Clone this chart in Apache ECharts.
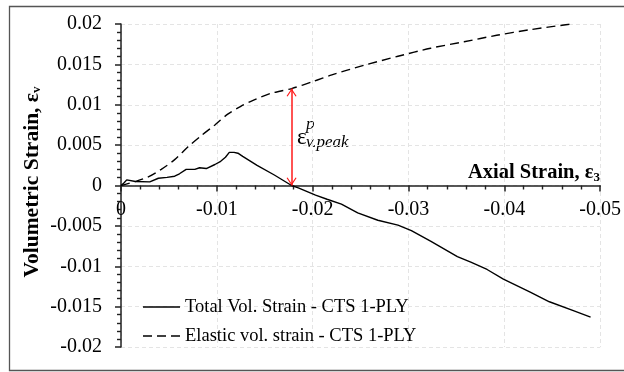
<!DOCTYPE html>
<html>
<head>
<meta charset="utf-8">
<script src="https://cdn.jsdelivr.net/npm/echarts@6/dist/echarts.min.js"></script>
<style>
  html, body { margin: 0; padding: 0; background: #fff; }
  #chart { width: 624px; height: 372px; }
</style>
</head>
<body>
<div id="chart"></div>
<script>
// Axial strain (negative = compression) and total volumetric strain
const totalStrainX = [0, -0.0003, -0.0006, -0.0015, -0.003, -0.0039, -0.0048, -0.0056, -0.0061, -0.0068,
  -0.0077, -0.0082, -0.0089, -0.0098, -0.0104, -0.0109, -0.0113, -0.0118, -0.0122, -0.0127,
  -0.0142, -0.016, -0.0178, -0.0185, -0.0203, -0.0215, -0.023, -0.0247, -0.0268, -0.0289,
  -0.0303, -0.0323, -0.0351, -0.0365, -0.0382, -0.0399, -0.0427, -0.0447, -0.0472, -0.049];
const totalStrainY = [0, 0.0003, 0.0007, 0.0005, 0.00045, 0.0009, 0.001, 0.00115, 0.00145, 0.002,
  0.002, 0.0022, 0.0021, 0.0026, 0.003, 0.0035, 0.0041, 0.0041, 0.004, 0.0036,
  0.0025, 0.0013, 0, -0.0003, -0.0012, -0.0017, -0.0023, -0.0034, -0.0043, -0.0049,
  -0.0056, -0.0069, -0.0088, -0.0095, -0.0104, -0.0116, -0.0132, -0.0144, -0.0155, -0.0163];

// Elastic volumetric strain
const elasticStrainX = [0, -0.0015, -0.0029, -0.0042, -0.0056, -0.007, -0.0084, -0.0098, -0.0111, -0.0125,
  -0.0139, -0.0156, -0.0167, -0.0178, -0.0201, -0.022, -0.0254, -0.0289, -0.0323, -0.0358, -0.0392,
  -0.0427, -0.047];
const elasticStrainY = [0, 0.0005, 0.0011, 0.002, 0.0032, 0.0048, 0.0062, 0.0075, 0.0088, 0.0098,
  0.0106, 0.0114, 0.0117, 0.012, 0.0129, 0.0137, 0.0149, 0.016, 0.017, 0.0178, 0.0186,
  0.0193, 0.02];

// Plastic volumetric strain at peak (arrow between the two curves)
const peakAxial = -0.0178;
const peakElastic = 0.012;
const peakTotal = 0;

// Axis ranges
const xRange = { min: -0.05, max: 0, interval: 0.01 };
const yRange = { min: -0.02, max: 0.02, interval: 0.005 };

const seriesNames = ['Total Vol. Strain - CTS 1-PLY', 'Elastic vol. strain - CTS 1-PLY'];

const FONT = 'Liberation Serif';
const AXIS_COLOR = '#222';
const fmt = v => String(parseFloat(v.toFixed(4)));
const pairs = (xs, ys) => xs.map((x, i) => [x, ys[i]]);
// open arrow head; the tiny dot above keeps the tip at the symbol centre
const chevron = 'path://M0,-10.8 L0.01,-10.8 L0,-10.79 Z M0,0 L6,10 L4.8,10.8 L0,2.6 L-4.8,10.8 L-6,10 Z';
const solidIcon = 'path://M0,0 H37 V1.5 H0 Z';
const dashIcon = 'path://M0,0 H9 V1.5 H0 Z M14,0 H23 V1.5 H14 Z M28,0 H37 V1.5 H28 Z';

const GRID = { left: 121, right: 20, top: 24, bottom: 25 };
const plotHeight = 372 - GRID.top - GRID.bottom;
// keep the x axis on the zero line
const zeroOffset = plotHeight * (0 - yRange.min) / (yRange.max - yRange.min);

const chart = echarts.init(document.getElementById('chart'), null, { renderer: 'canvas' });

function makeAxis(extra, labelMargin) {
  return Object.assign({
    type: 'value',
    axisLine: { show: true, onZero: false, lineStyle: { color: AXIS_COLOR, width: 1.5 } },
    axisTick: { show: true, length: 6, lineStyle: { color: AXIS_COLOR, width: 1.5 } },
    minorTick: { show: true, splitNumber: 5, length: 4, lineStyle: { color: AXIS_COLOR, width: 1.4 } },
    splitLine: { show: true, lineStyle: { color: '#e4e4e4', type: [4, 3], width: 1 } },
    axisLabel: { fontFamily: FONT, fontSize: 20, color: '#000', formatter: fmt, margin: labelMargin, showMinLabel: true, showMaxLabel: true }
  }, extra);
}

chart.setOption({
  animation: false,
  backgroundColor: '#fff',
  grid: GRID,
  xAxis: makeAxis({
    min: xRange.min, max: xRange.max, interval: xRange.interval, inverse: true,
    position: 'bottom', offset: -zeroOffset
  }, 14),
  yAxis: makeAxis({
    min: yRange.min, max: yRange.max, interval: yRange.interval, position: 'left'
  }, 19),
  legend: {
    orient: 'vertical', left: 143, top: 297, padding: 0,
    itemWidth: 37, itemHeight: 2, itemGap: 9,
    itemStyle: { color: '#000' },
    textStyle: { fontFamily: FONT, fontSize: 18.5, color: '#000', lineHeight: 20 },
    data: [
      { name: seriesNames[0], icon: solidIcon },
      { name: seriesNames[1], icon: dashIcon }
    ]
  },
  series: [
    {
      name: seriesNames[0], type: 'line', data: pairs(totalStrainX, totalStrainY),
      showSymbol: false, symbol: 'none',
      lineStyle: { color: '#000', width: 1.4, type: 'solid' }, itemStyle: { color: '#000' }
    },
    {
      name: seriesNames[1], type: 'line', data: pairs(elasticStrainX, elasticStrainY),
      showSymbol: false, symbol: 'none', smooth: 0.3,
      lineStyle: { color: '#000', width: 1.4, type: [9, 5] }, itemStyle: { color: '#000' },
      markLine: {
        silent: true, animation: false, z: 10,
        symbol: [chevron, chevron], symbolSize: [10, 16],
        lineStyle: { color: '#ff1a1a', width: 1.5, type: 'solid' },
        label: { show: false },
        data: [[{ coord: [peakAxial, peakElastic] }, { coord: [peakAxial, peakTotal] }]]
      }
    }
  ],
  graphic: [
    {
      type: 'rect', silent: true, z: -1,
      shape: { x: 9.5, y: 6.5, width: 620, height: 364 },
      style: { fill: 'none', stroke: '#555', lineWidth: 1.3 }
    },
    {
      type: 'text', x: 32, y: 182, rotation: Math.PI / 2, silent: true,
      style: {
        text: '{a|Volumetric Strain, ε}{s|v}',
        align: 'center', verticalAlign: 'middle',
        rich: {
          a: { fontFamily: FONT, fontSize: 21.5, fontWeight: 'bold', fill: '#000' },
          s: { fontFamily: FONT, fontSize: 13, fontWeight: 'bold', fill: '#000', padding: [10, 0, 0, 0] }
        }
      }
    },
    {
      type: 'text', x: 600, y: 173, silent: true,
      style: {
        text: '{a|Axial Strain, ε}{s|3}',
        align: 'right', verticalAlign: 'middle',
        rich: {
          a: { fontFamily: FONT, fontSize: 20.5, fontWeight: 'bold', fill: '#000' },
          s: { fontFamily: FONT, fontSize: 13, fontWeight: 'bold', fill: '#000', padding: [10, 0, 0, 0] }
        }
      }
    },
    {
      type: 'text', x: 297, y: 138, silent: true,
      style: { text: 'ε', fontFamily: FONT, fontSize: 23, fill: '#000', align: 'left', verticalAlign: 'middle' }
    },
    {
      type: 'text', x: 306, y: 125, silent: true,
      style: { text: 'p', fontFamily: FONT, fontSize: 17, fontStyle: 'italic', fill: '#000', align: 'left', verticalAlign: 'middle' }
    },
    {
      type: 'text', x: 306, y: 143, silent: true,
      style: { text: 'v.peak', fontFamily: FONT, fontSize: 17, fontStyle: 'italic', fill: '#000', align: 'left', verticalAlign: 'middle' }
    }
  ]
});
</script>
</body>
</html>
